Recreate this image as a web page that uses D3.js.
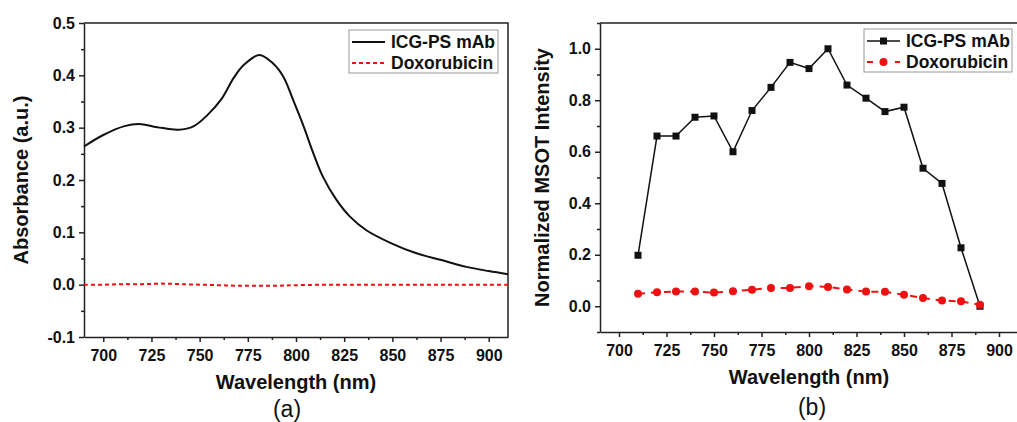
<!DOCTYPE html>
<html>
<head>
<meta charset="utf-8">
<script src="https://cdn.jsdelivr.net/npm/d3@7"></script>
<style>
  body { margin: 0; background: #fff; }
  text { font-family: "Liberation Sans", Arial, sans-serif; }
  .axis text { font-size: 16px; font-weight: bold; fill: #111; }
  .axis path, .axis line { stroke: #222; stroke-width: 1.5; }
  .label { font-size: 20px; font-weight: bold; fill: #111; }
  .legend text { font-size: 17.5px; font-weight: bold; fill: #111; }
</style>
</head>
<body>
<div id="plot"></div>
<script>
// panel (a): absorbance spectra
var absWave = [690, 700, 711, 718.5, 728, 739, 747, 754, 761, 768, 773, 781, 788, 793.5, 798.5, 804, 809, 814, 821, 828, 836.5, 849.5, 862.5, 875.5, 888.5, 900, 910];
var absICG  = [0.264, 0.286, 0.303, 0.307, 0.301, 0.296, 0.303, 0.324, 0.353, 0.397, 0.420, 0.439, 0.423, 0.397, 0.353, 0.302, 0.251, 0.206, 0.162, 0.130, 0.104, 0.079, 0.060, 0.047, 0.034, 0.026, 0.020];
var absDoxWave = [690, 700, 710, 720, 730, 740, 750, 760, 770, 780, 790, 800, 820, 840, 860, 880, 900, 910];
var absDox     = [0.000, 0.000, 0.001, 0.001, 0.002, 0.001, 0.000, -0.001, -0.002, -0.002, -0.002, -0.001, 0.000, 0.000, 0.000, 0.000, 0.000, 0.000];

// panel (b): normalized MSOT intensity
var msotWave = [710, 720, 730, 740, 750, 760, 770, 780, 790, 800, 810, 820, 830, 840, 850, 860, 870, 880, 890];
var msotICG  = [0.198, 0.661, 0.661, 0.734, 0.739, 0.600, 0.760, 0.850, 0.947, 0.923, 1.000, 0.859, 0.808, 0.756, 0.773, 0.536, 0.477, 0.227, 0.000];
var msotDox  = [0.049, 0.054, 0.057, 0.057, 0.053, 0.058, 0.064, 0.071, 0.071, 0.078, 0.075, 0.065, 0.057, 0.056, 0.045, 0.032, 0.022, 0.019, 0.006];

var xTicks = [700, 725, 750, 775, 800, 825, 850, 875, 900];
var seriesNames = ["ICG-PS mAb", "Doxorubicin"];

var svg = d3.select("div#plot")
  .append("svg")
    .attr("width", 1017)
    .attr("height", 422);

var fmt = function(d) { return d3.format(".1f")(d).replace("\u2212", "-"); };

function drawPanel(p) {
  var g = svg.append("g")
    .attr("transform", "translate(" + p.left + "," + p.top + ")");
  var w = p.width, h = p.height;

  var xscale = d3.scaleLinear().domain([690, 910]).range([0, w]);
  var yscale = d3.scaleLinear().domain(p.ydomain).range([h, 0]);

  // minor ticks
  var xMinor = d3.range(687.5, 911, 12.5).filter(function(v) { return v >= 690 && xTicks.indexOf(v) < 0; });
  g.append("g").attr("class", "axis")
    .attr("transform", "translate(0," + h + ")")
    .call(d3.axisBottom(xscale).tickValues(xMinor).tickSize(3).tickFormat(""))
    .select(".domain").remove();
  g.append("g").attr("class", "axis")
    .call(d3.axisLeft(yscale).tickValues(p.yMinor).tickSize(3).tickFormat(""))
    .select(".domain").remove();

  g.append("g")
    .attr("class", "x axis")
    .attr("transform", "translate(0," + h + ")")
    .call(d3.axisBottom(xscale).tickValues(xTicks).tickSize(5).tickSizeOuter(0).tickPadding(8).tickFormat(d3.format("d")));

  g.append("g")
    .attr("class", "y axis")
    .call(d3.axisLeft(yscale).tickValues(p.yTicks).tickSize(5).tickSizeOuter(0).tickPadding(4).tickFormat(fmt));

  // frame top/right
  g.append("path")
    .attr("d", "M0,0H" + w + "V" + h)
    .attr("fill", "none")
    .attr("stroke", "#222")
    .attr("stroke-width", 1.5);

  var marks = g.append("g");

  p.series.forEach(function(s) {
    var pts = s.x.map(function(v, i) { return [v, s.y[i]]; });
    var line = d3.line()
      .x(function(d) { return xscale(d[0]); })
      .y(function(d) { return yscale(d[1]); })
      .curve(s.smooth ? d3.curveCatmullRom.alpha(0.5) : d3.curveLinear);
    marks.append("path")
      .datum(pts)
      .attr("d", line)
      .attr("fill", "none")
      .attr("stroke", s.color)
      .attr("stroke-width", s.width)
      .attr("stroke-dasharray", s.dash || null);
    if (s.marker === "square") {
      marks.selectAll(null).data(pts).enter().append("rect")
        .attr("x", function(d) { return xscale(d[0]) - 3.5; })
        .attr("y", function(d) { return yscale(d[1]) - 3.5; })
        .attr("width", 7).attr("height", 7)
        .attr("fill", s.color);
    } else if (s.marker === "circle") {
      marks.selectAll(null).data(pts).enter().append("circle")
        .attr("cx", function(d) { return xscale(d[0]); })
        .attr("cy", function(d) { return yscale(d[1]); })
        .attr("r", 4)
        .attr("fill", s.color);
    }
  });

  // legend
  var lg = g.append("g").attr("class", "legend")
    .attr("transform", "translate(" + p.legend.x + "," + p.legend.y + ")");
  lg.append("rect")
    .attr("width", p.legend.w).attr("height", 43)
    .attr("fill", "#fff").attr("stroke", "#999").attr("stroke-width", 1);
  p.series.forEach(function(s, i) {
    var yy = 12 + i * 21;
    lg.append("line")
      .attr("x1", 3).attr("x2", 36).attr("y1", yy).attr("y2", yy)
      .attr("stroke", s.color).attr("stroke-width", s.width)
      .attr("stroke-dasharray", s.legendDash || s.dash || null);
    if (s.marker === "square") {
      lg.append("rect").attr("x", 16).attr("y", yy - 3.5).attr("width", 7).attr("height", 7).attr("fill", s.color);
    } else if (s.marker === "circle") {
      lg.append("circle").attr("cx", 19.5).attr("cy", yy).attr("r", 4).attr("fill", s.color);
    }
    lg.append("text")
      .attr("x", 42).attr("y", yy).attr("dy", "0.35em")
      .text(seriesNames[i]);
  });

  // labels
  g.append("text")
    .attr("class", "label")
    .attr("text-anchor", "middle")
    .attr("x", w / 2).attr("y", h + 52)
    .text("Wavelength (nm)");

  g.append("text")
    .attr("class", "label")
    .attr("text-anchor", "middle")
    .attr("transform", "translate(" + p.ylabelX + "," + (h / 2) + ") rotate(-90)")
    .attr("dy", "0.35em")
    .text(p.ylabel);

  g.append("text")
    .attr("text-anchor", "middle")
    .attr("x", w / 2 + p.captionDx).attr("y", p.captionY)
    .style("font-size", "23px")
    .style("fill", "#111")
    .text(p.caption);
}

drawPanel({
  left: 84, top: 23, width: 424, height: 314,
  ydomain: [-0.1, 0.5],
  yTicks: [-0.1, 0.0, 0.1, 0.2, 0.3, 0.4, 0.5],
  yMinor: [-0.05, 0.05, 0.15, 0.25, 0.35, 0.45],
  ylabel: "Absorbance (a.u.)", ylabelX: -63,
  caption: "(a)", captionDx: -9, captionY: 394,
  legend: { x: 265, y: 7, w: 149 },
  series: [
    { x: absWave, y: absICG, color: "#111", width: 2, smooth: true },
    { x: absDoxWave, y: absDox, color: "#ee1111", width: 2, dash: "4,3", smooth: true }
  ]
});

drawPanel({
  left: 600, top: 23, width: 418, height: 309,
  ydomain: [-0.1, 1.1],
  yTicks: [0.0, 0.2, 0.4, 0.6, 0.8, 1.0],
  yMinor: [-0.1, 0.1, 0.3, 0.5, 0.7, 0.9, 1.1],
  ylabel: "Normalized MSOT Intensity", ylabelX: -58,
  caption: "(b)", captionDx: 3, captionY: 392,
  legend: { x: 264, y: 6, w: 148 },
  series: [
    { x: msotWave, y: msotICG, color: "#111", width: 1.5, marker: "square" },
    { x: msotWave, y: msotDox, color: "#ee1111", width: 2, dash: "7,6", legendDash: "6,8", marker: "circle" }
  ]
});
</script>
</body>
</html>
